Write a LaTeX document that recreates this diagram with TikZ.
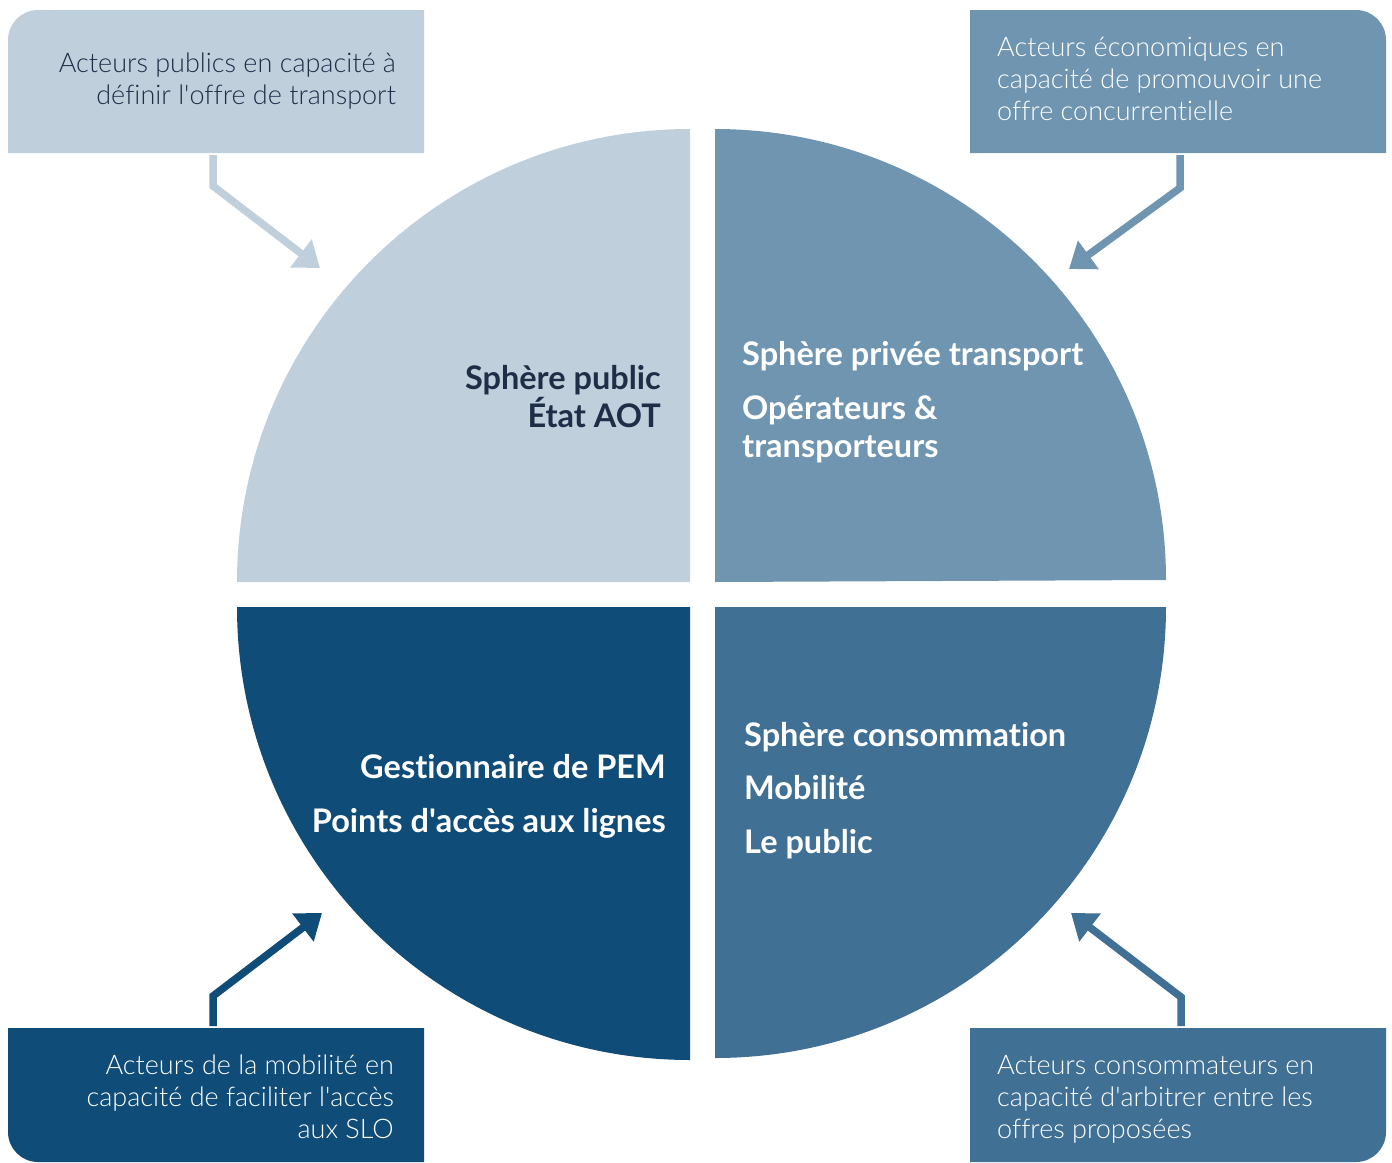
\documentclass[tikz,border=0pt]{standalone}
\usepackage{fontspec}
\setmainfont{Lato}[Ligatures=NoCommon]
\newfontfamily\lightfont{Lato Light}[Ligatures=NoCommon]
\usetikzlibrary{arrows.meta}
\definecolor{qA}{HTML}{BFCFDC}
\definecolor{qB}{HTML}{6F95B0}
\definecolor{qC}{HTML}{0F4C78}
\definecolor{qD}{HTML}{417095}
\definecolor{ink}{HTML}{1F2E47}
\begin{document}
\begin{tikzpicture}[x=1pt,y=-1pt,
  boxtxt/.style={font=\lightfont\fontsize{27}{32}\selectfont, inner sep=0pt},
  lbl/.style={font=\bfseries\fontsize{32.5}{38}\selectfont, inner sep=0pt},
  arr/.style={line width=7.5pt, miter limit=10, -{Triangle[length=24pt,width=34pt]}}]
\useasboundingbox (0,0) rectangle (1392,1162);
% quadrants
\fill[qA] (690,582) -- (237,582) arc[start angle=180,end angle=270,radius=453] -- cycle;
\fill[qB] (715,582) -- (715,129) arc[start angle=270,end angle=360,radius=451] -- cycle;
\fill[qC] (690,607) -- (237,607) arc[start angle=180,end angle=90,radius=453] -- cycle;
\fill[qD] (715,607) -- (1166,607) arc[start angle=0,end angle=90,radius=451] -- cycle;
% boxes
\fill[qA] (8,153) -- (8,40) arc[start angle=180,end angle=270,radius=30] -- (424,10) -- (424,153) -- cycle;
\fill[qB] (970,10) -- (1356,10) arc[start angle=270,end angle=360,radius=30] -- (1386,153) -- (970,153) -- cycle;
\fill[qC] (8,1028) -- (424,1028) -- (424,1162) -- (38,1162) arc[start angle=90,end angle=180,radius=30] -- cycle;
\fill[qD] (970,1028) -- (1386,1028) -- (1386,1132) arc[start angle=0,end angle=90,radius=30] -- (970,1162) -- cycle;
% arrow coordinates
\coordinate (a1s) at (213,155); \coordinate (a1b) at (213,186); \coordinate (a1t) at (320,268);
\coordinate (a2s) at (1180,155); \coordinate (a2b) at (1180,188); \coordinate (a2t) at (1069,269);
\coordinate (a3s) at (213,1026); \coordinate (a3b) at (213,996); \coordinate (a3t) at (322,913);
\coordinate (a4s) at (1181,1026); \coordinate (a4b) at (1181,997); \coordinate (a4t) at (1071,913);
\draw[arr, qA] (a1s) -- (a1b) -- (a1t);
\draw[arr, qB] (a2s) -- (a2b) -- (a2t);
\draw[arr, qC] (a3s) -- (a3b) -- (a3t);
\draw[arr, qD] (a4s) -- (a4b) -- (a4t);
% box texts
\node[boxtxt, ink, anchor=base east] (t1a) at (396,72) {Acteurs publics en capacité à};
\node[boxtxt, ink, anchor=base east] (t1b) at (396,104) {définir l\textquotesingle offre de transport};
\node[boxtxt, white, anchor=base west] (t2a) at (997,56) {Acteurs économiques en};
\node[boxtxt, white, anchor=base west] (t2b) at (997,88) {capacité de promouvoir une};
\node[boxtxt, white, anchor=base west] (t2c) at (997,120) {offre concurrentielle};
\node[boxtxt, white, anchor=base east] (t3a) at (394,1074) {Acteurs de la mobilité en};
\node[boxtxt, white, anchor=base east] (t3b) at (394,1106) {capacité de faciliter l\textquotesingle accès};
\node[boxtxt, white, anchor=base east] (t3c) at (394,1138) {aux SLO};
\node[boxtxt, white, anchor=base west] (t4a) at (997,1074) {Acteurs consommateurs en};
\node[boxtxt, white, anchor=base west] (t4b) at (997,1106) {capacité d\textquotesingle arbitrer entre les};
\node[boxtxt, white, anchor=base west] (t4c) at (997,1138) {offres proposées};
% quadrant labels
\node[lbl, ink, anchor=base east] (l1a) at (661,389) {Sphère public};
\node[lbl, ink, anchor=base east] (l1b) at (661,427) {État AOT};
\node[lbl, white, anchor=base west] (l2a) at (742,365) {Sphère privée transport};
\node[lbl, white, anchor=base west] (l2b) at (742,419) {Opérateurs \&};
\node[lbl, white, anchor=base west] (l2c) at (742,457) {transporteurs};
\node[lbl, white, anchor=base east] (l3a) at (666,778) {Gestionnaire de PEM};
\node[lbl, white, anchor=base east] (l3b) at (666,832) {Points d\textquotesingle accès aux lignes};
\node[lbl, white, anchor=base west] (l4a) at (744,746) {Sphère consommation};
\node[lbl, white, anchor=base west] (l4b) at (744,799) {Mobilité};
\node[lbl, white, anchor=base west] (l4c) at (744,853) {Le public};
\end{tikzpicture}
\end{document}
